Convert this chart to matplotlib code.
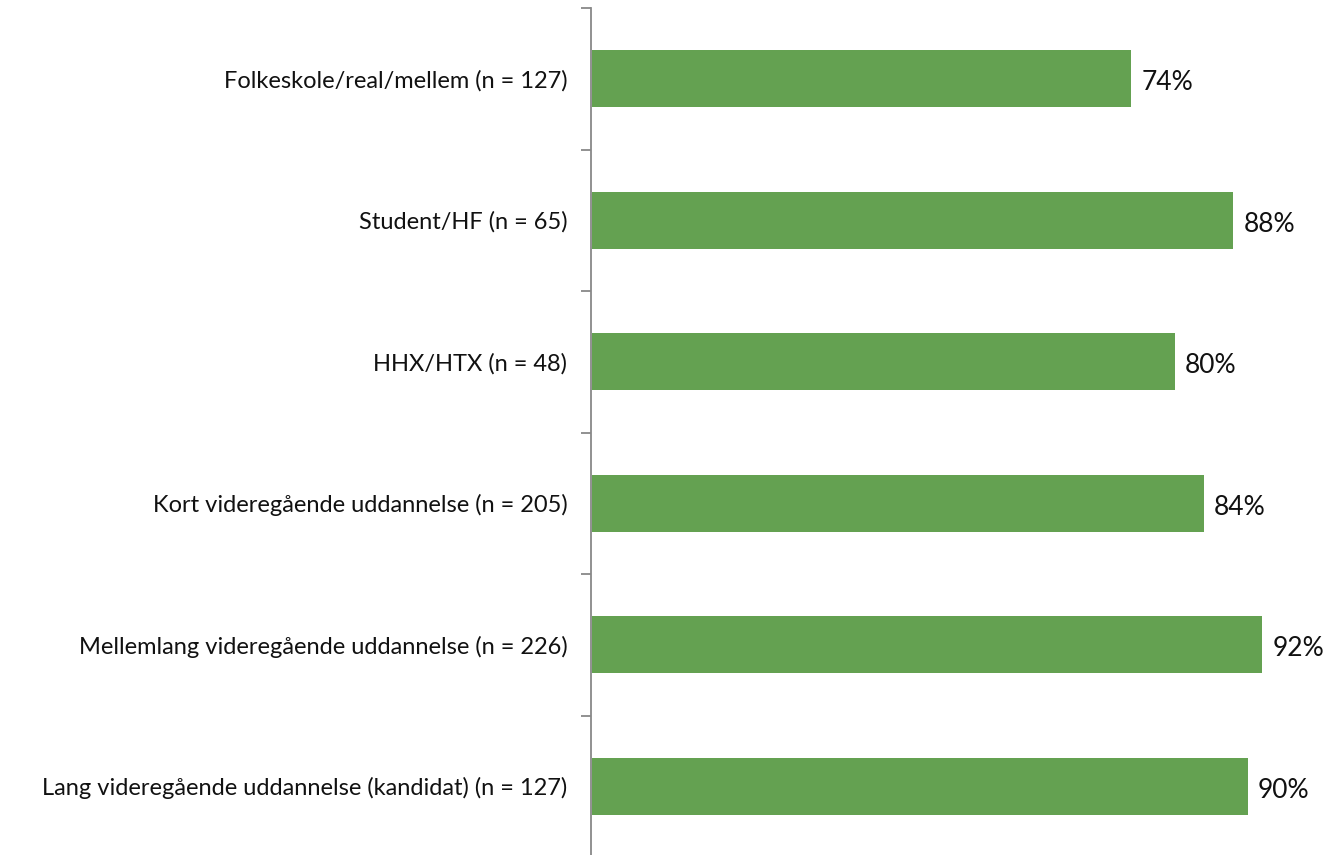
import matplotlib.pyplot as plt
import numpy as np

categories = [
    'Folkeskole/real/mellem (n = 127)',
    'Student/HF (n = 65)',
    'HHX/HTX (n = 48)',
    'Kort videregående uddannelse (n = 205)',
    'Mellemlang videregående uddannelse (n = 226)',
    'Lang videregående uddannelse (kandidat) (n = 127)',
]
values = [0.74, 0.88, 0.80, 0.84, 0.92, 0.90]

plt.rcParams['font.family'] = ['Lato', 'DejaVu Sans']

fig = plt.figure(figsize=(13.32, 8.55), dpi=100)
ax = fig.add_axes([591 / 1332, -2 / 855, (1319 - 591) / 1332, 849 / 855])

y = np.arange(len(categories))
ax.barh(y, values, height=0.4, color='#64A151', left=0.002)
for yi, v in zip(y, values):
    ax.text(v + 0.016, yi + 0.03, f'{v * 100:.0f}%', va='center', ha='left',
            fontsize=19, color='#111111')

ax.set_xlim(0, 1.0)
ax.set_ylim(len(categories) - 0.5, -0.5)
ax.set_yticks(y)
ax.set_yticklabels(categories, fontsize=17, color='#111111')
ax.set_yticks(np.arange(-0.5, len(categories), 1.0), minor=True)
ax.tick_params(axis='y', which='major', length=0, pad=17)
ax.tick_params(axis='y', which='minor', length=7, color='#888888', width=1.3)
ax.set_xticks([])
for s in ['top', 'right', 'bottom']:
    ax.spines[s].set_visible(False)
ax.spines['left'].set_color('#888888')
ax.spines['left'].set_linewidth(1.3)

fig.savefig('out.png', dpi=100)
